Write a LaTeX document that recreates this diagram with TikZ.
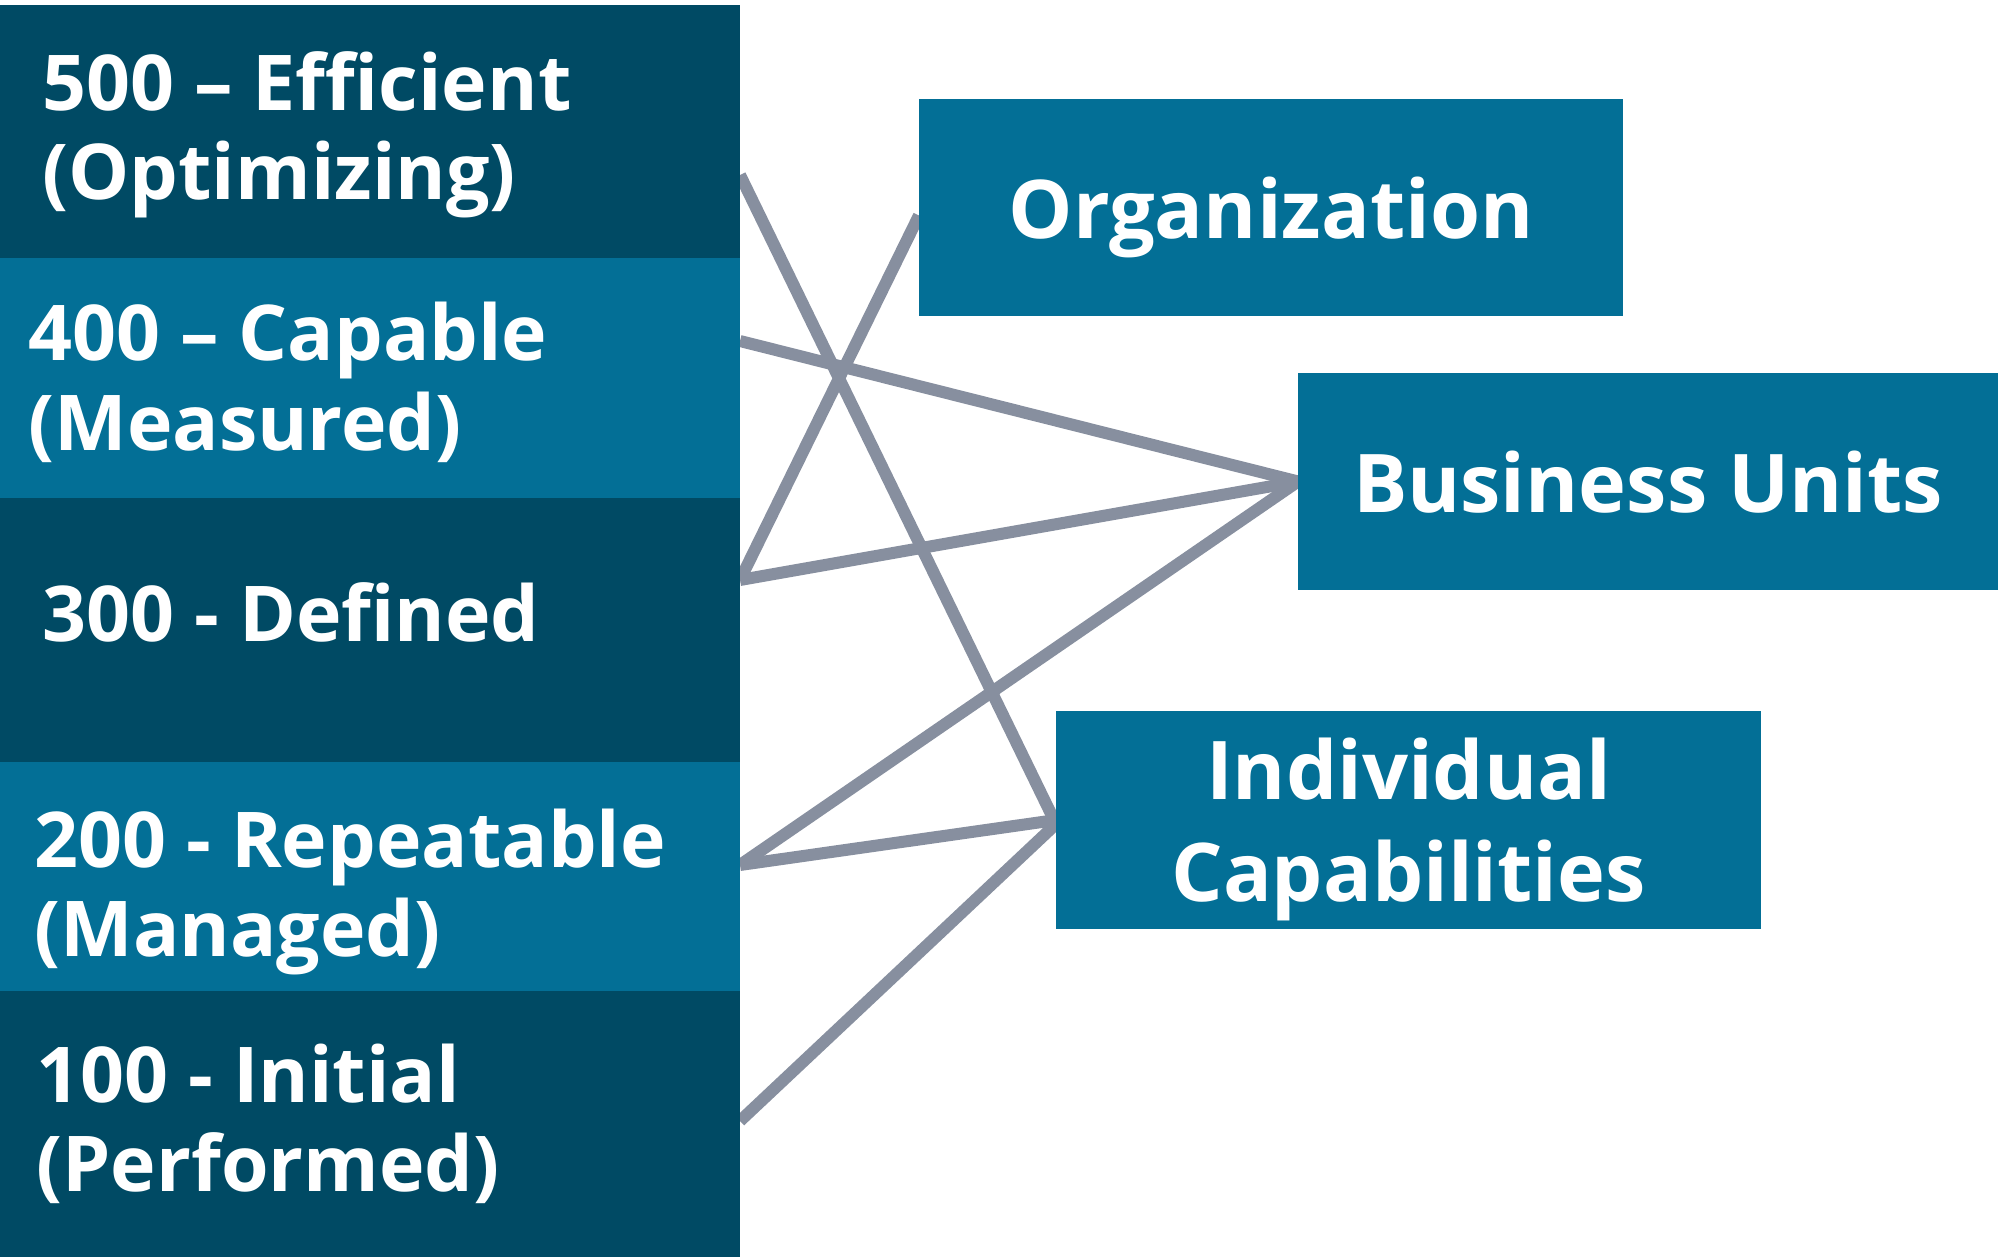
\documentclass[tikz,border=0pt]{standalone}
\usepackage{fontspec}
\setmainfont{Open Sans}
\usetikzlibrary{backgrounds}
\definecolor{darkteal}{RGB}{0,74,100}
\definecolor{lightteal}{RGB}{3,111,150}
\definecolor{linkgray}{RGB}{135,143,159}
\tikzset{
  px/.style={x=0.5pt,y=-0.5pt},
  levelbox/.style={draw=none,inner sep=0pt,outer sep=0pt,anchor=north west},
  labeltext/.style={text=white,inner sep=0pt,anchor=base west,align=left,
    font=\fontsize{38.5}{44.5}\selectfont\bfseries},
  areabox/.style={fill=lightteal,inner sep=0pt,outer sep=0pt,anchor=north west,
    text=white,align=center,text depth=0pt,font=\fontsize{40.5}{51}\selectfont\bfseries},
  link/.style={draw=linkgray,line width=6pt}
}
\begin{document}
\begin{tikzpicture}[px]
\useasboundingbox (0,0) rectangle (1998,1257);
% left column
\node[levelbox,fill=darkteal,minimum width=370pt,minimum height=126.5pt] (b500) at (0,5) {};
\node[levelbox,fill=lightteal,minimum width=370pt,minimum height=120pt] (b400) at (0,258) {};
\node[levelbox,fill=darkteal,minimum width=370pt,minimum height=132pt] (b300) at (0,498) {};
\node[levelbox,fill=lightteal,minimum width=370pt,minimum height=114.5pt] (b200) at (0,762) {};
\node[levelbox,fill=darkteal,minimum width=370pt,minimum height=133pt] (b100) at (0,991) {};
\node[labeltext] (t500) at (42,200) {500 – Efficient\\(Optimizing)};
\node[labeltext] (t400) at (28,450) {400 – Capable\\(Measured)};
\node[labeltext] (t300) at (42,641) {300 - Defined};
\node[labeltext] (t200) at (34,956) {200 - Repeatable\\(Managed)};
\node[labeltext] (t100) at (36,1191) {100 - Initial\\(Performed)};
% right boxes
\node[areabox,minimum width=352pt,minimum height=108.5pt] (org) at (919,99) {Organization};
\node[areabox,minimum width=350pt,minimum height=108.5pt] (bu) at (1298,373) {Business Units};
\node[areabox,minimum width=352.5pt,minimum height=109pt] (ic) at (1056,711) {Individual\\Capabilities};
% link start points on the column edge
\coordinate (s500) at (740,175);
\coordinate (s400) at (740,341);
\coordinate (s300) at (740,580);
\coordinate (s200) at (740,865);
\coordinate (s100) at (740,1121);
\begin{scope}[on background layer]
\draw[link] (s500) -- ([yshift=-2pt]ic.west);
\draw[link] (s400) -- (bu.west);
\draw[link] (s300) -- ([yshift=-4pt]org.west);
\draw[link] (s300) -- (bu.west);
\draw[link] (s200) -- (bu.west);
\draw[link] (s200) -- (ic.west);
\draw[link] (s100) -- ([yshift=-2pt]ic.west);
\end{scope}
\end{tikzpicture}
\end{document}
